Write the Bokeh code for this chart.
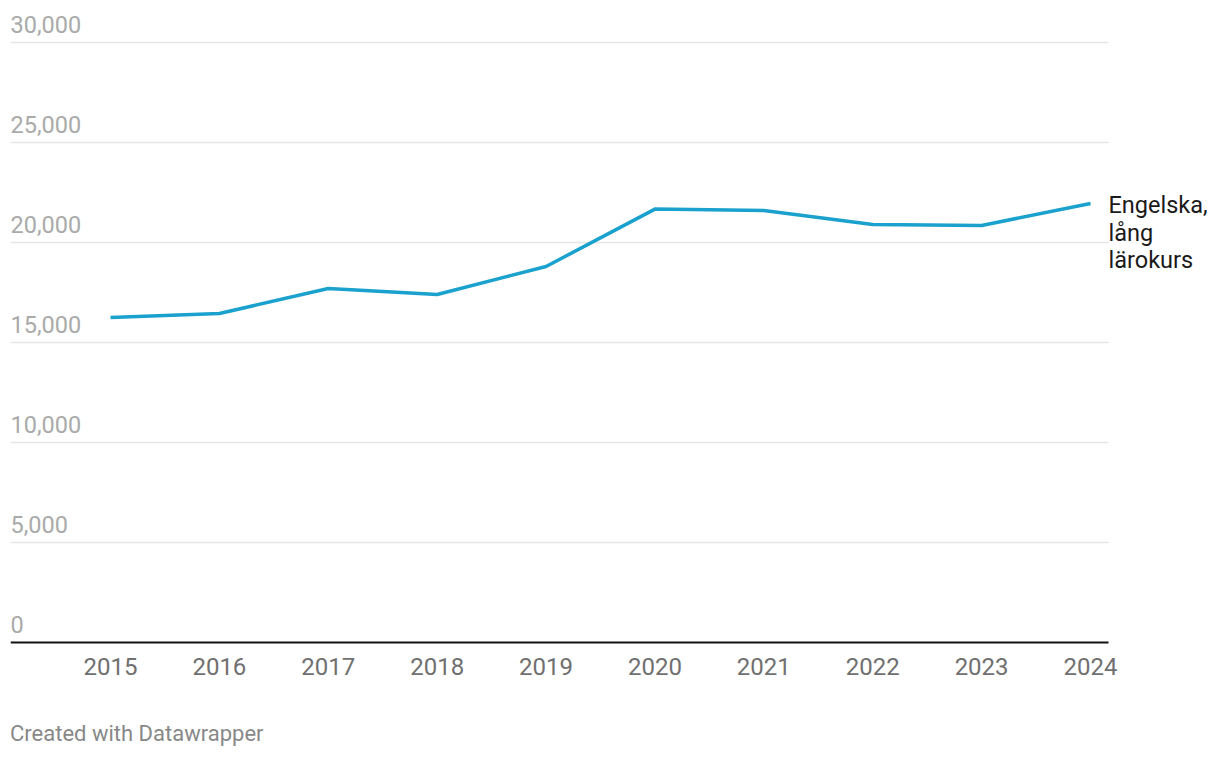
from bokeh.plotting import figure
from bokeh.models import Range1d, FixedTicker, ColumnDataSource, Div
from bokeh.layouts import column
from bokeh.embed import file_html
from bokeh.resources import INLINE
from bokeh.core.properties import value

years = [2015, 2016, 2017, 2018, 2019, 2020, 2021, 2022, 2023, 2024]
values = [16250, 16450, 17700, 17400, 18800, 21670, 21600, 20900, 20850, 21950]
series_name = ["Engelska,", "lång", "lärokurs"]
y_ticks = [0, 5000, 10000, 15000, 20000, 25000, 30000]
y_tick_labels = ["0", "5,000", "10,000", "15,000", "20,000", "25,000", "30,000"]
footer = "Created with Datawrapper"

FONT = "Roboto"
LINE_COLOR = "#1aa1cd"

PX_PER_YEAR = 980 / 9
x_start = years[0] - 100 / PX_PER_YEAR
x_grid_end = x_start + 1098 / PX_PER_YEAR
x_end = x_start + 1202 / PX_PER_YEAR

p = figure(width=1212, height=692, output_backend="svg", toolbar_location=None,
           x_range=Range1d(x_start, x_end), y_range=Range1d(-200, 32100),
           min_border_left=10, min_border_right=0, min_border_top=0,
           min_border_bottom=46)
p.outline_line_color = None
p.background_fill_color = "white"
p.border_fill_color = "white"

p.yaxis.visible = False
p.xgrid.visible = False
p.ygrid.visible = False

# horizontal gridlines (limited width), drawn from tick values
p.segment(x0=[x_start] * (len(y_ticks) - 1), x1=[x_grid_end] * (len(y_ticks) - 1),
          y0=y_ticks[1:], y1=y_ticks[1:], line_color="#e5e5e5", line_width=1.5)
# baseline at zero
p.segment(x0=[x_start], x1=[x_grid_end], y0=[y_ticks[0]], y1=[y_ticks[0]],
          line_color="#111111", line_width=2)

xa = p.xaxis[0]
xa.ticker = FixedTicker(ticks=years)
xa.axis_line_color = None
xa.major_tick_line_color = None
xa.minor_tick_line_color = None
xa.major_tick_out = 0
xa.major_tick_in = 0
xa.major_label_standoff = 11
xa.major_label_text_font = FONT
xa.major_label_text_font_size = "24px"
xa.major_label_text_color = "#707070"

# y tick labels drawn inside plot above gridlines
p.text(x=[x_start] * len(y_ticks), y=y_ticks, text=y_tick_labels,
       text_font=value(FONT), text_font_size="23.5px", text_color="#aaaaaa",
       text_align="left", text_baseline="middle", y_offset=-18.2)

p.line(years, values, line_color=LINE_COLOR, line_width=3.5, line_join="round")

lab = ColumnDataSource(dict(x=[years[-1]] * 3, y=[values[-1]] * 3, t=series_name,
                            yo=[1.5, 29.0, 56.5]))
p.text(x="x", y="y", text="t", source=lab, x_offset=18, y_offset="yo",
       text_font=value(FONT), text_font_size="23.5px", text_color="#1a1a1a",
       text_align="left", text_baseline="middle")

note = Div(text=footer, width=400, height=26, margin=(29, 0, 0, 10),
           styles={"font-family": FONT, "font-size": "22px", "color": "#888888",
                   "line-height": "26px", "white-space": "nowrap"})

layout = column(p, note, spacing=0)
open("out.html", "w").write(file_html(layout, INLINE))
